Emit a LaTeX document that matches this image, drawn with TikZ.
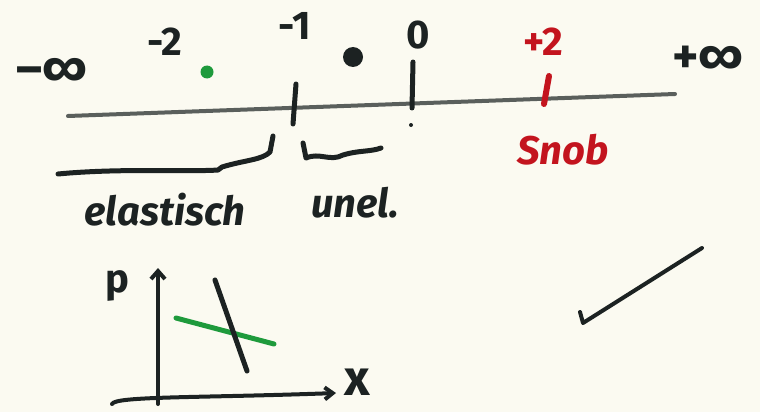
\documentclass[tikz,border=0pt]{standalone}
\usepackage{fontspec}
\setmainfont{Fira Sans}
\usetikzlibrary{arrows.meta}
\definecolor{paper}{HTML}{FBFAF1}
\definecolor{ink}{HTML}{1C2222}
\definecolor{pencil}{HTML}{5A5F5C}
\definecolor{inkgreen}{HTML}{1E9A3C}
\definecolor{inkred}{HTML}{C3141E}
\tikzset{
  marker/.style={draw=ink, line width=5pt, line cap=round, line join=round},
  label/.style={text=ink, font=\fontsize{40}{40}\selectfont\bfseries, inner sep=0pt},
  biglabel/.style={label, font=\fontsize{50}{50}\selectfont\bfseries},
  word/.style={text=ink, font=\fontsize{40}{40}\selectfont\bfseries\itshape, inner sep=0pt}
}
\begin{document}
\begin{tikzpicture}[x=1pt,y=-1pt]
  \fill[paper] (0,0) rectangle (760,412);
  \useasboundingbox (0,0) rectangle (760,412);

  % number line
  \coordinate (lineL) at (68,116);
  \coordinate (lineR) at (675,94);
  \draw[draw=pencil, line width=4pt, line cap=round] (lineL) -- (lineR);

  % ticks at -1, 0 and +2
  \draw[marker] (296,84) -- (293,124);
  \draw[marker] (413,62) -- (412,108);
  \fill[ink] (411,125) circle (2);
  \draw[marker, draw=inkred, line width=6pt] (549,76) -- (544,104);

  % values along the line
  \node[biglabel] (minf) at (52,72) {–∞};
  \node[label] (m2) at (165,42) {-2};
  \node[label] (m1) at (295,26) {-1};
  \node[label] (zero) at (418,35) {0};
  \node[label, text=inkred] (p2) at (543,42) {+2};
  \node[biglabel] (pinf) at (708,60) {+∞};

  % points
  \fill[inkgreen] (207,72) circle (6.5);
  \fill[ink] (353,57) circle (10);

  % braces
  \draw[marker] (58,174) .. controls (120,168) and (190,172) .. (218,170)
        -- (222,167) .. controls (245,160) and (262,160) .. (270,152) -- (273,136);
  \draw[marker] (303,143) -- (306,158) .. controls (320,152) and (330,162) .. (343,155)
        .. controls (360,150) and (370,152) .. (381,148);

  % labels under the braces
  \node[word] (elast) at (165,210) {elastisch};
  \node[word] (unel) at (355,203) {unel.};
  \node[word, text=inkred] (snob) at (563,150) {Snob};

  % small diagram: axes and two curves
  \coordinate (yTop) at (158,268);
  \coordinate (origin) at (158,404);
  \coordinate (xStart) at (112,404);
  \coordinate (xEnd) at (336,393);
  \draw[marker, line width=4pt, -{Straight Barb[length=8pt,width=14pt]}] (origin) -- (yTop);
  \draw[marker, line width=4pt, -{Straight Barb[length=8pt,width=12pt]}]
        (xStart) .. controls (115,396) and (200,398) .. (xEnd);
  \node[label] (pLab) at (117,286) {p};
  \node[biglabel] (xLab) at (357,382) {x};
  \draw[marker, draw=inkgreen] (176,318) -- (274,344);
  \draw[marker] (215,280) -- (247,371);

  % check mark
  \draw[marker, line width=4pt] (580,312) -- (583,323) -- (702,248);
\end{tikzpicture}
\end{document}
